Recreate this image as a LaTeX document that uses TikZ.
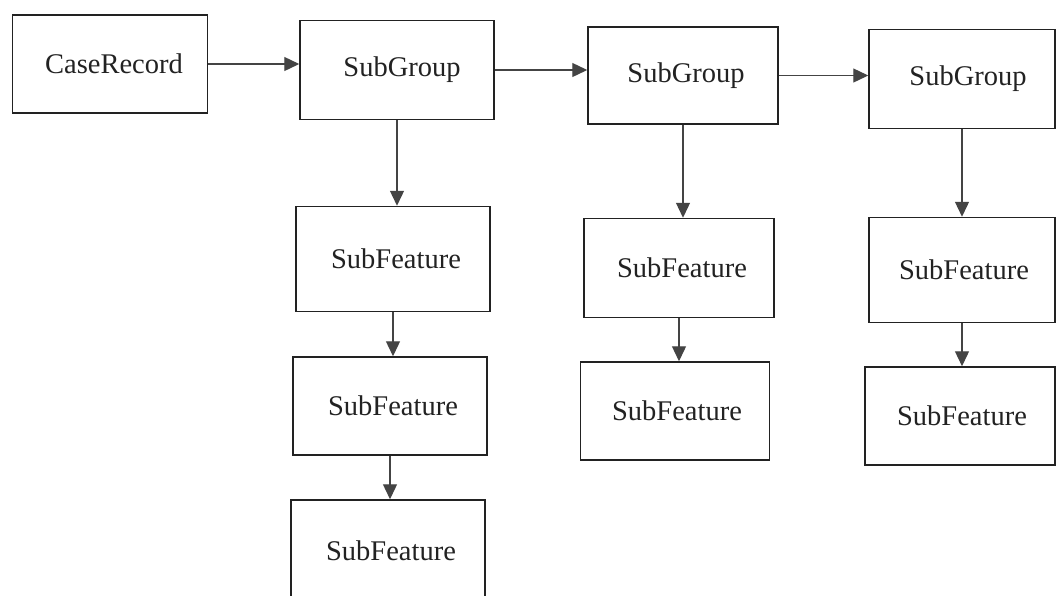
\documentclass[tikz,border=0pt]{standalone}
\usepackage{fontspec}
\setmainfont{Liberation Serif}
\usetikzlibrary{arrows.meta}
\definecolor{ink}{HTML}{222222}
\definecolor{tipc}{HTML}{444444}
\tikzset{
  box/.style={draw=ink, line width=1.5pt, rectangle, inner sep=0pt, font=\fontsize{28.5}{31}\selectfont, text=ink},
  arr/.style={draw=tipc, line width=1.3pt, -{Triangle[length=15pt,width=14pt,fill=tipc]}},
}
\begin{document}
\begin{tikzpicture}[x=1pt,y=-1pt]
\useasboundingbox (0,0) rectangle (1056,595);
\fill[white] (0,0) rectangle (1056,595);
\clip (0,0) rectangle (1056,595);
\node[box, minimum width=195pt, minimum height=98pt] (cr) at (110,64) {\hspace*{8pt}CaseRecord};
\node[box, minimum width=194pt, minimum height=99pt] (g1) at (397,70) {\hspace*{10pt}SubGroup};
\node[box, minimum width=190pt, minimum height=97pt] (g2) at (683,75.5) {\hspace*{6pt}SubGroup};
\node[box, minimum width=186pt, minimum height=99pt] (g3) at (962,79) {\hspace*{12pt}SubGroup};
\node[box, minimum width=194pt, minimum height=105pt] (f11) at (393,259) {\hspace*{6pt}SubFeature};
\node[box, minimum width=194pt, minimum height=98pt] (f12) at (390,406) {\hspace*{6pt}SubFeature};
\node[box, minimum width=194pt, minimum height=110pt] (f13) at (388,555) {};
\node[font=\fontsize{28.5}{31}\selectfont, text=ink] (f13t) at (391,551) {SubFeature};
\node[box, minimum width=190pt, minimum height=99pt] (f21) at (679,268) {\hspace*{6pt}SubFeature};
\node[box, minimum width=189pt, minimum height=98pt] (f22) at (675,411) {\hspace*{4pt}SubFeature};
\node[box, minimum width=186pt, minimum height=105pt] (f31) at (962,270) {\hspace*{4pt}SubFeature};
\node[box, minimum width=190pt, minimum height=98pt] (f32) at (960,416) {\hspace*{4pt}SubFeature};
\draw[arr] (cr.east) -- (cr.east -| g1.west);
\draw[arr] (g1.east) -- (g1.east -| g2.west);
\draw[arr] (g2.east) -- (g2.east -| g3.west);
\draw[arr] (g1.south) -- (g1.south |- f11.north);
\draw[arr] (f11.south) -- (f11.south |- f12.north);
\draw[arr] (f12.south) -- (f12.south |- f13.north);
\draw[arr] (g2.south) -- (g2.south |- f21.north);
\draw[arr] (f21.south) -- (f21.south |- f22.north);
\draw[arr] (g3.south) -- (g3.south |- f31.north);
\draw[arr] (f31.south) -- (f31.south |- f32.north);
\end{tikzpicture}
\end{document}
